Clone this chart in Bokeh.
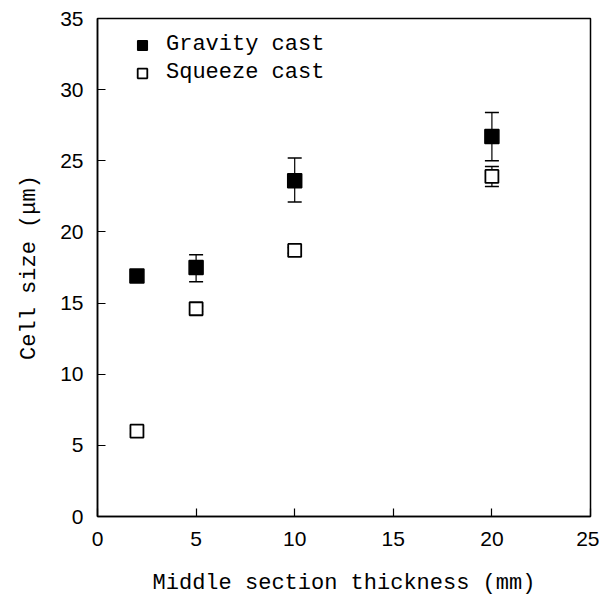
from bokeh.plotting import figure
from bokeh.models import ColumnDataSource, Whisker, Legend, LegendItem, Range1d, FixedTicker
from bokeh.embed import file_html
from bokeh.resources import INLINE

thickness = [2, 5, 10, 20]
gravity = [16.9, 17.5, 23.6, 26.7]
gravity_lo = [16.6, 16.5, 22.1, 25.0]
gravity_hi = [17.2, 18.4, 25.2, 28.4]
squeeze = [6.0, 14.6, 18.7, 23.9]
squeeze_lo = [5.8, 14.4, 18.5, 23.2]
squeeze_hi = [6.2, 14.8, 18.9, 24.6]

LABEL_FONT = "Liberation Mono"
TICK_FONT = "Liberation Sans"

p = figure(width=599, height=598, output_backend="svg", toolbar_location=None,
           x_range=Range1d(0, 25), y_range=Range1d(0, 35))
p.min_border_left = 97
p.min_border_right = 9
p.min_border_top = 18
p.min_border_bottom = 81
p.grid.visible = False
p.outline_line_color = "black"
p.outline_line_width = 1.5
p.background_fill_color = "white"
p.border_fill_color = "white"

for ax in (p.xaxis[0], p.yaxis[0]):
    ax.axis_line_width = 1.5
    ax.major_tick_in = 8
    ax.major_tick_out = 0
    ax.minor_tick_line_color = None
    ax.major_tick_line_width = 1.2
    ax.major_label_text_font = TICK_FONT
    ax.major_label_text_font_size = "21px"
    ax.major_label_text_color = "black"
    ax.axis_label_text_font = LABEL_FONT
    ax.axis_label_text_font_size = "22px"
    ax.axis_label_text_font_style = "normal"
    ax.axis_label_text_color = "black"

p.xaxis.ticker = FixedTicker(ticks=[0, 5, 10, 15, 20, 25])
p.yaxis.ticker = FixedTicker(ticks=[0, 5, 10, 15, 20, 25, 30, 35])
p.xaxis.axis_label = "Middle section thickness (mm)"
p.yaxis.axis_label = "Cell size (μm)"
p.xaxis.major_label_standoff = 15
p.xaxis.axis_label_standoff = 22
p.yaxis.major_label_standoff = 14
p.yaxis.axis_label_standoff = 15

gsrc = ColumnDataSource(dict(x=thickness, y=gravity, lo=gravity_lo, hi=gravity_hi))
ssrc = ColumnDataSource(dict(x=thickness, y=squeeze, lo=squeeze_lo, hi=squeeze_hi))

for src in (gsrc, ssrc):
    w = Whisker(source=src, base="x", lower="lo", upper="hi", line_color="black", line_width=1.2)
    w.upper_head.size = 14
    w.lower_head.size = 14
    w.upper_head.line_width = 1.5
    w.lower_head.line_width = 1.5
    p.add_layout(w)

rg = p.scatter("x", "y", source=gsrc, marker="square", size=14, fill_color="black",
               line_color="black", line_width=1.5)
rs = p.scatter("x", "y", source=ssrc, marker="square", size=13, fill_color="white",
               line_color="black", line_width=1.8)

legend = Legend(items=[LegendItem(label="Gravity cast", renderers=[rg]),
                       LegendItem(label="Squeeze cast", renderers=[rs])],
                location=(33, 431), border_line_color=None, background_fill_alpha=0,
                label_text_font=LABEL_FONT, label_text_font_size="22px",
                label_text_color="black",
                glyph_width=24, glyph_height=24, spacing=3, padding=4, margin=0,
                label_standoff=12)
p.add_layout(legend)

open("out.html", "w").write(file_html(p, INLINE))
